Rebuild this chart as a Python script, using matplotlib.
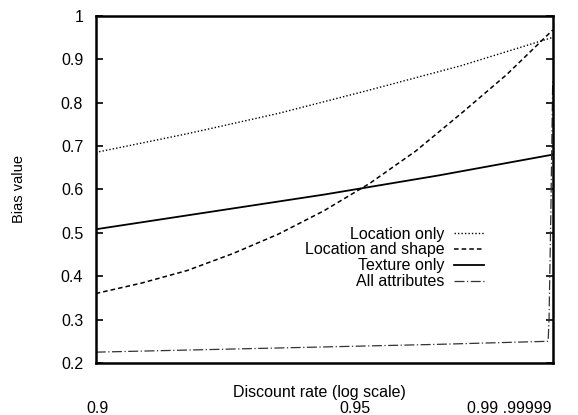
import numpy as np
import matplotlib.pyplot as plt

plt.rcParams['font.family'] = ['Liberation Sans', 'DejaVu Sans']

# position along the (log-scaled) discount axis, 0 = left edge, 1 = right edge
x_loc = [0.0, 0.2, 0.4, 0.6, 0.8, 1.0]
loc_only = [0.685, 0.728, 0.775, 0.829, 0.885, 0.95]

x_shape = [0.0, 0.1, 0.2, 0.3, 0.4, 0.5, 0.6, 0.7, 0.8, 0.9, 1.0]
loc_shape = [0.36, 0.384, 0.413, 0.452, 0.497, 0.551, 0.614, 0.688, 0.775, 0.865, 0.967]

x_tex = [0.0, 0.25, 0.5, 0.75, 1.0]
texture = [0.508, 0.548, 0.588, 0.632, 0.68]

x_all = [0.0, 0.25, 0.5, 0.75, 0.99, 0.992, 0.996, 1.0]
all_attr = [0.225, 0.231, 0.237, 0.243, 0.25, 0.30, 0.55, 0.85]

labels = ['Location only', 'Location and shape', 'Texture only', 'All attributes']
yticks = [0.2, 0.3, 0.4, 0.5, 0.6, 0.7, 0.8, 0.9, 1]
ytick_labels = ['0.2', '0.3', '0.4', '0.5', '0.6', '0.7', '0.8', '0.9', '1']
xtick_labels = ['0.9', '0.95', '0.99 .99999']
xtick_pos = [0.005, 0.567, 0.906]

fig = plt.figure(figsize=(5.78, 4.15), dpi=100)
ax = fig.add_axes([95.7/578, 1-363/415, 457/578, 347.3/415])

ax.plot(x_loc, loc_only, color='black', lw=1.0, ls=(0, (1, 1.5)), label=labels[0])
ax.plot(x_shape, loc_shape, color='black', lw=1.1, ls=(0, (3, 2)), label=labels[1])
ax.plot(x_tex, texture, color='black', lw=1.3, ls='-', label=labels[2])
ax.plot(x_all, all_attr, color='#333333', lw=0.9, ls=(0, (8, 2, 1, 2)), label=labels[3])

ax.set_xlim(0, 1)
ax.set_ylim(0.2, 1)
ax.set_yticks(yticks)
ax.set_yticklabels(ytick_labels, fontsize=11.5)
ax.set_xticks([])
ax.tick_params(axis='y', direction='in', length=5, width=1.2, right=True, pad=9)
for s in ax.spines.values():
    s.set_linewidth(1.8)

ax.set_ylabel('Bias value', fontsize=10.5, labelpad=25)
ax.text(0.49, -0.085, 'Discount rate (log scale)', transform=ax.transAxes,
        ha='center', va='center', fontsize=11.5)
for p, t in zip(xtick_pos, xtick_labels):
    ax.text(p, -0.13, t, transform=ax.transAxes, ha='center', va='center', fontsize=11.5)

leg = ax.legend(loc='upper right', bbox_to_anchor=(0.867, 0.416), frameon=False,
                markerfirst=False, fontsize=11.5, handlelength=1.9, labelspacing=0.06,
                handletextpad=0.55, borderpad=0)
for t in leg.get_texts():
    t.set_ha('right')

fig.savefig('out.png', dpi=100)
